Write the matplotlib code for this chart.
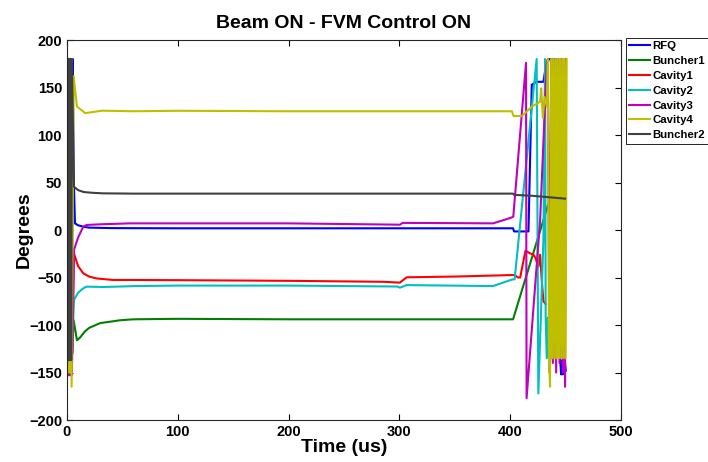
import matplotlib.pyplot as plt

plt.rcParams['font.family'] = ['Liberation Sans', 'DejaVu Sans']
plt.rcParams['font.weight'] = 'bold'

# phase traces (degrees) vs time (us)
t_rfq = [0.5, 1.2, 2.0, 2.8, 3.6, 4.4, 5.2, 6.0, 7.2, 10, 14.7, 20, 40, 100, 200, 300, 400,
         402.6, 403.5, 416.5, 419.5, 424, 430, 431.5, 433.5, 434.5, 440, 445, 445.3, 446,
         446.6, 447.4, 448, 448.8, 449.5, 450.2]
y_rfq = [180, -130, 180, -130, 180, -130, 180, 60, 7, 5, 3.5, 2.5, 2, 1.8, 1.8, 1.8, 1.8,
         1.8, -1.5, -1.5, 153, 156, 156, 167, 168, 180, 179, 179, -140, -152,
         -138, -152, -140, -150, -140, -148]

t_b1 = [0.5, 1.3, 2.1, 2.9, 3.7, 4.5, 6, 9, 12, 16, 20, 30, 48, 60, 100, 200, 300, 400,
        402.6, 430, 434, 440, 450]
y_b1 = [180, -130, 180, -130, 180, -130, -95, -116, -113, -107, -103, -98, -95, -94, -93.5,
        -94, -94, -94, -94, 10.5, 26, 35, 36]

t_c1 = [0.7, 1.5, 2.3, 3.1, 3.9, 4.7, 6.3, 10, 14.7, 20, 26.8, 41.6, 60, 100, 200, 285,
        300.5, 306.5, 350, 402.6, 404, 407, 409, 413.8, 418, 421, 423, 425.4, 427, 428.5,
        430, 432]
y_c1 = [180, -130, 180, -130, 180, -130, -24.6, -38, -45.6, -49, -51, -52.6, -52.6, -52.8,
        -53.5, -54.5, -55.4, -49.8, -49, -47.4, -47.4, -50, -50, -21.8, -24.6, -26, -30,
        -38.6, -26, -52.6, -75, -78]

t_c2 = [0.5, 1.3, 2.1, 2.9, 3.7, 4.5, 6.3, 10, 14.7, 17.7, 32.5, 63, 100, 200, 298, 300.5,
        306.5, 384.5, 402, 404, 423.9, 425.4, 430, 431.5, 432, 433, 434, 435, 436, 437,
        438, 440, 442, 444, 446, 448, 450]
y_c2 = [180, -130, 180, -130, 180, -130, -73.7, -66, -61.4, -59.6, -60, -59, -58.5, -58.5,
        -59.5, -60.7, -58, -59, -52, -52, 180, -172, -10, 180, -92, -135, -92, -135, -92,
        -135, 180, -135, 180, -135, 180, -135, 180]

t_c3 = [0.4, 1.2, 2.0, 2.8, 3.6, 4.4, 6.3, 10, 14.7, 17.7, 30, 56.9, 100, 200, 300.5, 303,
        384.5, 400, 402.8, 414.3, 414.8, 427, 433, 434, 435.5, 437, 438.5, 440, 441.5, 443,
        444.5, 446, 447.5, 449, 449.5, 450]
y_c3 = [180, -153, 180, -153, 180, -153, -21, -8, 3.5, 5.3, 6, 7, 7, 7, 5.6, 7.5,
        7, 12.6, 14, 176, -177, 10, 175, 180, -150, 180, -140, 180, -150, 180,
        -140, 180, -150, 180, -165, 180]

t_c4 = [0.6, 1.4, 2.2, 3.0, 3.9, 4.2, 6, 9, 16.5, 31.6, 60, 100, 200, 300, 384.5, 401.6,
        403, 410.6, 419.7, 427, 428, 429.5, 431, 433, 434, 435, 436, 437, 438, 439, 440,
        441, 442, 443, 444, 445, 446, 447, 448, 449, 450, 451]
y_c4 = [180, -150, 180, -150, 180, -165, 162, 130, 123, 125.6, 125, 125.5, 125, 125, 125,
        125, 120, 120, 130, 135, 149, 118, 140, 130, 180, -135, -165, 180, -135, 180, -135,
        180, -135, 180, -135, 180, -135, 180, -135, 180, -135, 180]

t_b2 = [1.0, 1.4, 1.8, 2.2, 2.6, 3.0, 3.4, 3.8, 4.4, 6.3, 10, 15, 22.5, 32.5, 60, 100, 200,
        300, 400, 402.6, 403.5, 420, 435, 449.5]
y_b2 = [180, -137, 180, -137, 180, -137, 180, -137, 180, 45.6, 42, 40, 39.2, 38.6, 38.3,
        38.3, 38.3, 38.3, 38.3, 38.3, 37, 36, 34.5, 33]

series = [
    ("RFQ", t_rfq, y_rfq, (0, 0, 1)),
    ("Buncher1", t_b1, y_b1, (0, 0.5, 0)),
    ("Cavity1", t_c1, y_c1, (1, 0, 0)),
    ("Cavity2", t_c2, y_c2, (0, 0.75, 0.75)),
    ("Cavity3", t_c3, y_c3, (0.75, 0, 0.75)),
    ("Cavity4", t_c4, y_c4, (0.75, 0.75, 0)),
    ("Buncher2", t_b2, y_b2, (0.25, 0.25, 0.25)),
]

fig = plt.figure(figsize=(7.08, 4.62), dpi=100)
ax = fig.add_axes([0.0946, 0.0909, 0.7825, 0.8225])

for name, t, y, c in series:
    ax.plot(t, y, color=c, lw=1.5, label=name)

ax.set_xlim(0, 500)
ax.set_ylim(-200, 200)
ax.set_xticks([0, 100, 200, 300, 400, 500])
ax.set_yticks(range(-200, 201, 50))
ax.tick_params(direction='in', top=True, right=True, length=4, labelsize=10.5,
               colors='black')
for s in ax.spines.values():
    s.set_color((0.15, 0.15, 0.15))
ax.set_xlabel("Time (us)", fontsize=14, fontweight='bold', labelpad=0)
ax.set_ylabel("Degrees", fontsize=14, fontweight='bold', labelpad=-3)
ax.set_title("Beam ON - FVM Control ON", fontsize=14, fontweight='bold', pad=9)

leg = ax.legend(loc='upper left', bbox_to_anchor=(626 / 708, 1 - 38 / 462),
                bbox_transform=fig.transFigure, fontsize=8.2, fancybox=False,
                framealpha=1, edgecolor='black', handlelength=1.8, handletextpad=0.2,
                labelspacing=0.42, borderpad=0.3, borderaxespad=0)
leg.get_frame().set_linewidth(0.6)

fig.savefig("out.png", dpi=100)
